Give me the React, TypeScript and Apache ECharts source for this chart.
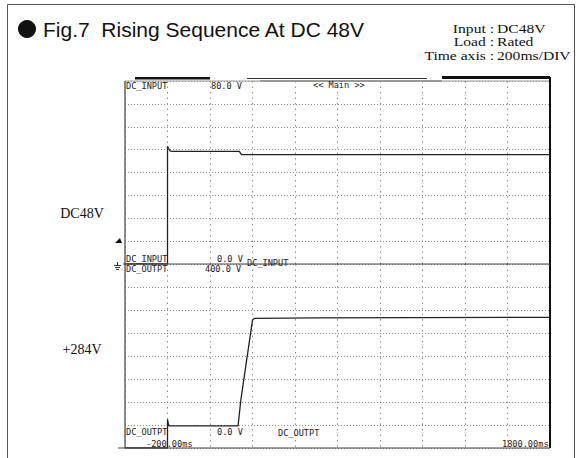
import React, { useEffect, useRef } from "react";
import * as echarts from "echarts";

// Time axis (ms): -200 .. 1800, 200 ms / DIV
const timeMin = -200;
const timeMax = 1800;
const timeStep = 200;

// DC_INPUT channel: 0 .. 80 V (10 V / DIV)
const inputMax = 80;
const inputStep = 10;
const inputTime = [-200, 0, 0, 4, 12, 20, 338, 348, 1800];
const inputVolt = [0, 0, 51.5, 50.6, 49.4, 49.3, 49.2, 47.8, 47.8];

// DC_OUTPT channel: 0 .. 400 V (50 V / DIV)
const outputMax = 400;
const outputStep = 50;
const outputTime = [-200, 0, 0, 6, 332, 345, 400, 410, 700, 1800];
const outputVolt = [0, 0, 62, 48, 48, 104, 278, 282, 283, 284];

const titleText = "Fig.7  Rising Sequence At DC 48V";
const condLabels = ["Input :", "Load :", "Time axis :"];
const condValues = ["DC48V", "Rated", "200ms/DIV"];
const sideLabels = ["DC48V", "+284V"];

const MONO = '8.6px "DejaVu Sans Mono", monospace';
const SERIF = '"Liberation Serif", "DejaVu Serif", serif';

function pairs(xs: number[], ys: number[]) {
  return xs.map((x, i) => [x, ys[i]]);
}

export default function App() {
  const ref = useRef<HTMLDivElement>(null);
  useEffect(() => {
    if (!ref.current) return;
    const chart = echarts.init(ref.current, null, { renderer: "svg" });
    const L = 125, R = 550, T = 81, M = 264, B = 448;
    const gridDotH = { color: "#8c8c8c", width: 1, type: [1, 2] as any };
    const gridDotV = { color: "#8c8c8c", width: 1, type: [1.5, 4] as any };
    const txt = (text: string, x: number, y: number, font: string, align = "left", fill = "#222", scaleX = 1) => ({
      type: "text",
      x,
      y,
      scaleX,
      z: 100,
      style: { text, font, fill, align, textAlign: align, verticalAlign: "middle", textVerticalAlign: "middle" },
    });
    const line = (x1: number, y1: number, x2: number, y2: number, stroke: string, lineWidth: number) => ({
      type: "line",
      z: 90,
      shape: { x1, y1, x2, y2 },
      style: { stroke, lineWidth },
    });
    const rect = (x: number, y: number, width: number, height: number, fill: string) => ({
      type: "rect",
      z: 90,
      shape: { x, y, width, height },
      style: { fill },
    });

    const condY = [28, 41.5, 55];
    const condFont = "13px " + SERIF;
    const graphic: any[] = [
      { type: "rect", z: 80, shape: { x: 7.5, y: 4.5, width: 567, height: 470 }, style: { fill: "none", stroke: "#555", lineWidth: 1 } },
      { type: "circle", z: 100, shape: { cx: 27, cy: 29, r: 9 }, style: { fill: "#111" } },
      txt(titleText, 43, 29, '21px "Liberation Sans", Arial, sans-serif', "left", "#111"),
      ...condLabels.map((s, i) => txt(s, 494, condY[i], condFont, "right", "#111", 1.2)),
      ...condValues.map((s, i) => txt(s, 497, condY[i], condFont, "left", "#111", 1.2)),
      txt(sideLabels[0], 82, 213, "14px " + SERIF, "center", "#111"),
      txt(sideLabels[1], 82, 349, "14px " + SERIF, "center", "#111"),
      // frame of the scope screen
      line(L, T, R, T, "#9a9a9a", 1),
      line(260, T, 442, T, "#9a9a9a", 2),
      line(L, T, L, B, "#666", 1.5),
      line(R, 77, R, B, "#111", 2),
      line(118, B, R, B, "#444", 1.2),
      line(123, M, R, M, "#444", 1),
      rect(135, 77, 75, 2.5, "#111"),
      line(247, 78.5, 427, 78.5, "#333", 1),
      rect(442, 76, 108, 3, "#111"),
      // markers
      { type: "polygon", z: 100, shape: { points: [[115, 243], [122, 243], [120, 238]] }, style: { fill: "#111" } },
      line(117.5, 262, 117.5, 265, "#333", 1),
      line(114, 265.5, 121, 265.5, "#333", 1),
      line(115, 267.5, 120, 267.5, "#333", 1),
      line(116, 269.5, 119, 269.5, "#333", 1),
      // scope labels
      txt("DC_INPUT", 126, 86, MONO),
      txt("80.0 V", 211, 86, MONO),
      txt("<< Main >>", 313, 85, MONO),
      txt("DC_INPUT", 126, 259, MONO),
      txt("0.0 V", 217, 259, MONO),
      txt("DC_INPUT", 247, 263, MONO),
      txt("DC_OUTPT", 126, 269, MONO),
      txt("400.0 V", 205, 269, MONO),
      txt("DC_OUTPT", 126, 432, MONO),
      txt("0.0 V", 217, 432, MONO),
      txt("DC_OUTPT", 278, 433, MONO),
      txt("-200.00ms", 146, 444, MONO),
      txt("1800.00ms", 502, 444, MONO),
    ];

    const xAxisBase = (gridIndex: number) => ({
      type: "value",
      gridIndex,
      min: timeMin,
      max: timeMax,
      interval: timeStep,
      axisLine: { show: false },
      axisTick: { show: false },
      axisLabel: { show: false },
      splitLine: { show: true, lineStyle: gridDotV },
    });
    const yAxisBase = (gridIndex: number, max: number, step: number) => ({
      type: "value",
      gridIndex,
      min: 0,
      max,
      interval: step,
      axisLine: { show: false },
      axisTick: { show: false },
      axisLabel: { show: false },
      splitLine: { show: true, lineStyle: gridDotH },
    });

    chart.setOption({
      animation: false,
      backgroundColor: "#fff",
      grid: [
        { left: L, top: T, width: R - L, height: M - T, show: false },
        { left: L, top: M, width: R - L, height: B - M, show: false },
      ],
      xAxis: [xAxisBase(0), xAxisBase(1)],
      yAxis: [yAxisBase(0, inputMax, inputStep), yAxisBase(1, outputMax, outputStep)],
      series: [
        {
          type: "line",
          xAxisIndex: 0,
          yAxisIndex: 0,
          data: pairs(inputTime, inputVolt),
          showSymbol: false,
          lineStyle: { color: "#222", width: 1.3 },
          z: 5,
        },
        {
          type: "line",
          xAxisIndex: 1,
          yAxisIndex: 1,
          data: pairs(outputTime, outputVolt),
          showSymbol: false,
          lineStyle: { color: "#222", width: 1.3 },
          z: 5,
        },
      ],
      graphic,
    });
    return () => chart.dispose();
  }, []);
  return (
    <div
      ref={ref}
      style={{ position: "absolute", left: 0, top: 0, width: 582, height: 458, background: "#fff" }}
    />
  );
}
